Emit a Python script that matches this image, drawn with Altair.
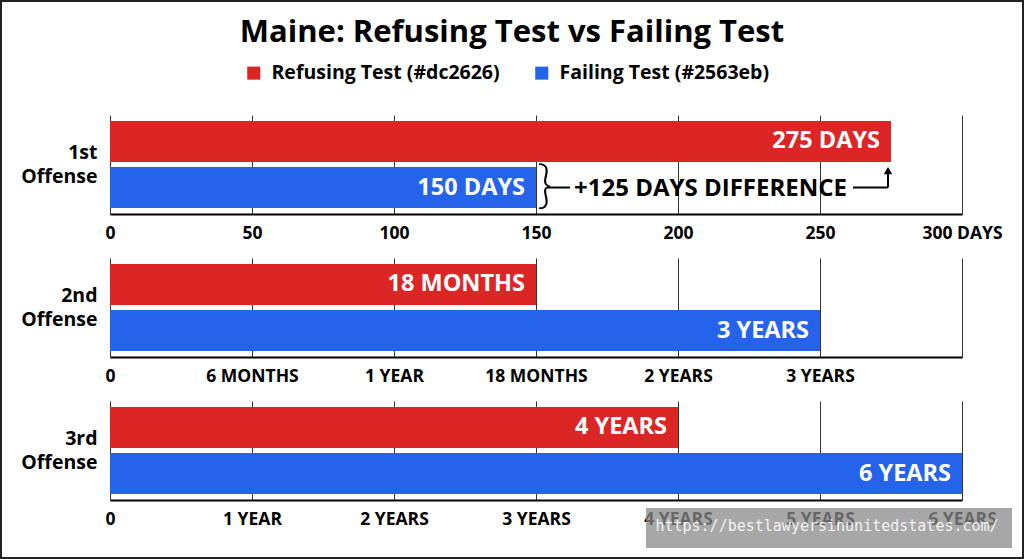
import altair as alt
import pandas as pd

TITLE = "Maine: Refusing Test vs Failing Test"
tests = ["Refusing Test (#dc2626)", "Failing Test (#2563eb)"]
colors = ["#dc2626", "#2563eb"]
offenses = [["1st", "Offense"], ["2nd", "Offense"], ["3rd", "Offense"]]

days_values = [275, 150]
days_labels = ["275 DAYS", "150 DAYS"]
months_values = [18, 36]
months_labels = ["18 MONTHS", "3 YEARS"]
years_values = [4, 6]
years_labels = ["4 YEARS", "6 YEARS"]

days_ticks = [0, 50, 100, 150, 200, 250, 300]
days_tick_labels = ["0", "50", "100", "150", "200", "250", "300 DAYS"]
months_ticks = [0, 6, 12, 18, 24, 36, 48]
months_tick_labels = ["0", "6 MONTHS", "1 YEAR", "18 MONTHS", "2 YEARS", "3 YEARS", ""]
years_ticks = [0, 1, 2, 3, 4, 5, 6]
years_tick_labels = ["0", "1 YEAR", "2 YEARS", "3 YEARS", "4 YEARS", "5 YEARS", "6 YEARS"]

WATERMARK = "https://bestlawyersinunitedstates.com/"

W, H = 852, 99
FONT = "Open Sans"


def label_expr(ticks, labels):
    expr = "''"
    for t, l in reversed(list(zip(ticks, labels))):
        expr = f"datum.value == {t} ? '{l}' : ({expr})"
    return expr


legend = alt.Legend(
    title=None, orient="none", legendX=134, legendY=-52, direction="horizontal",
    symbolType="square", symbolSize=170, symbolStrokeWidth=0,
    labelFont=FONT, labelFontSize=19.5, labelFontWeight="bold", labelColor="black",
    labelLimit=0, columnPadding=32, padding=0, labelOffset=8,
)


def panel(values, labels, offense, ticks, tick_labels, scale):
    df = pd.DataFrame({"test": tests, "value": values, "label": labels})
    yenc = alt.Y(
        "test:N",
        scale=alt.Scale(domain=tests, paddingInner=0.11, paddingOuter=0.13),
        axis=alt.Axis(
            title=offense, labels=False, ticks=False, grid=False, domain=False,
            titleAngle=0, titleAlign="right", titleBaseline="middle",
            titleX=-13, titleY=H / 2 - 12, titleFont=FONT, titleFontSize=19.5,
            titleFontWeight="bold", titleColor="black", titleLineHeight=24,
        ),
    )
    xenc = alt.X(
        "value:Q",
        scale=scale,
        axis=alt.Axis(
            title=None, values=ticks, labelExpr=label_expr(ticks, tick_labels),
            grid=True, gridColor="#333333", gridWidth=1, ticks=False,
            domainColor="black", domainWidth=2,
            labelFont=FONT, labelFontSize=17.5, labelFontWeight="bold",
            labelColor="black", labelPadding=10, labelFlush=False, labelOverlap=False,
        ),
    )
    bars = alt.Chart(df).mark_bar().encode(
        x=xenc, y=yenc,
        color=alt.Color("test:N", scale=alt.Scale(domain=tests, range=colors), legend=legend),
    )
    text = alt.Chart(df).mark_text(
        align="right", baseline="middle", dx=-11, color="white",
        font=FONT, fontSize=23.5, fontWeight="bold",
    ).encode(x="value:Q", y=alt.Y("test:N"), text="label:N")
    return bars, text


b1, t1 = panel(days_values, days_labels, offenses[0], days_ticks, days_tick_labels,
               alt.Scale(domain=[0, 300], nice=False, zero=True))
b2, t2 = panel(months_values, months_labels, offenses[1], months_ticks, months_tick_labels,
               alt.Scale(domain=[0, 24, 48], range=[0, W * 4 / 6, W], nice=False, zero=False))
b3, t3 = panel(years_values, years_labels, offenses[2], years_ticks, years_tick_labels,
               alt.Scale(domain=[0, 6], nice=False, zero=True))

# annotation for first offense
start, end = days_values[1], days_values[0]
ann = pd.DataFrame({
    "test": [tests[1]], "start": [start], "end": [end],
    "mid": [(start + end) / 2], "text": [f"+{end - start} DAYS DIFFERENCE"],
})
ann_text = alt.Chart(ann).mark_text(
    align="center", baseline="middle", color="black", font=FONT, fontSize=24, fontWeight="bold", dy=1, dx=-3,
).encode(x="mid:Q", y="test:N", text="text:N")
rule_left = alt.Chart(ann).mark_rule(color="black", strokeWidth=2, xOffset=11, x2Offset=34).encode(
    x="start:Q", x2="start:Q", y="test:N")
rule_right = alt.Chart(ann).mark_rule(color="black", strokeWidth=2, xOffset=-38, x2Offset=-3).encode(
    x="end:Q", x2="end:Q", y="test:N")
rule_up = alt.Chart(ann).mark_rule(color="black", strokeWidth=2, xOffset=-3, x2Offset=-3, y2Offset=-14).encode(
    x="end:Q", y="test:N", y2="test:N")
arrow = alt.Chart(ann).mark_point(shape="triangle-up", filled=True, size=70, color="black",
                                  opacity=1, yOffset=-17, xOffset=-3).encode(x="end:Q", y="test:N")
brace = alt.Chart(ann).mark_text(text="}", align="left", baseline="middle", dx=1, dy=-2,
                                 font="Lato", fontWeight=300, fontSize=52, color="black").encode(
    x="start:Q", y="test:N")

title_df = pd.DataFrame({"t": [TITLE]})
title = alt.Chart(title_df).mark_text(
    align="center", baseline="alphabetic", font=FONT, fontSize=31, fontWeight="bold", color="black",
).encode(text="t:N", x=alt.value(402), y=alt.value(-73))

frame = alt.Chart(pd.DataFrame({"a": [0]})).mark_rect(
    fillOpacity=0, stroke="#222222", strokeWidth=2,
).encode(x=alt.value(-109), x2=alt.value(913), y=alt.value(-114), y2=alt.value(443))

wm_df = pd.DataFrame({"t": [WATERMARK]})
wm_box = alt.Chart(wm_df).mark_rect(color="#8a8a8a", opacity=0.75).encode(
    x=alt.value(536), x2=alt.value(902), y=alt.value(107), y2=alt.value(147))
wm_text = alt.Chart(wm_df).mark_text(
    align="center", baseline="middle", font="DejaVu Sans Mono", fontSize=15, color="#f2f2f2",
).encode(text="t:N", x=alt.value(717), y=alt.value(125))

p1 = alt.layer(b1, t1, ann_text, rule_left, rule_right, rule_up, arrow, brace, title, frame).properties(width=W, height=H)
p2 = alt.layer(b2, t2).properties(width=W, height=H)
p3 = alt.layer(b3, t3, wm_box, wm_text).properties(width=W, height=H)

chart = alt.vconcat(p1, p2, p3, spacing=44, bounds="flush").properties(
    padding=0, background="white"
).configure_view(stroke=None)

chart.save("out.html", embed_options={"renderer": "svg", "actions": False})
